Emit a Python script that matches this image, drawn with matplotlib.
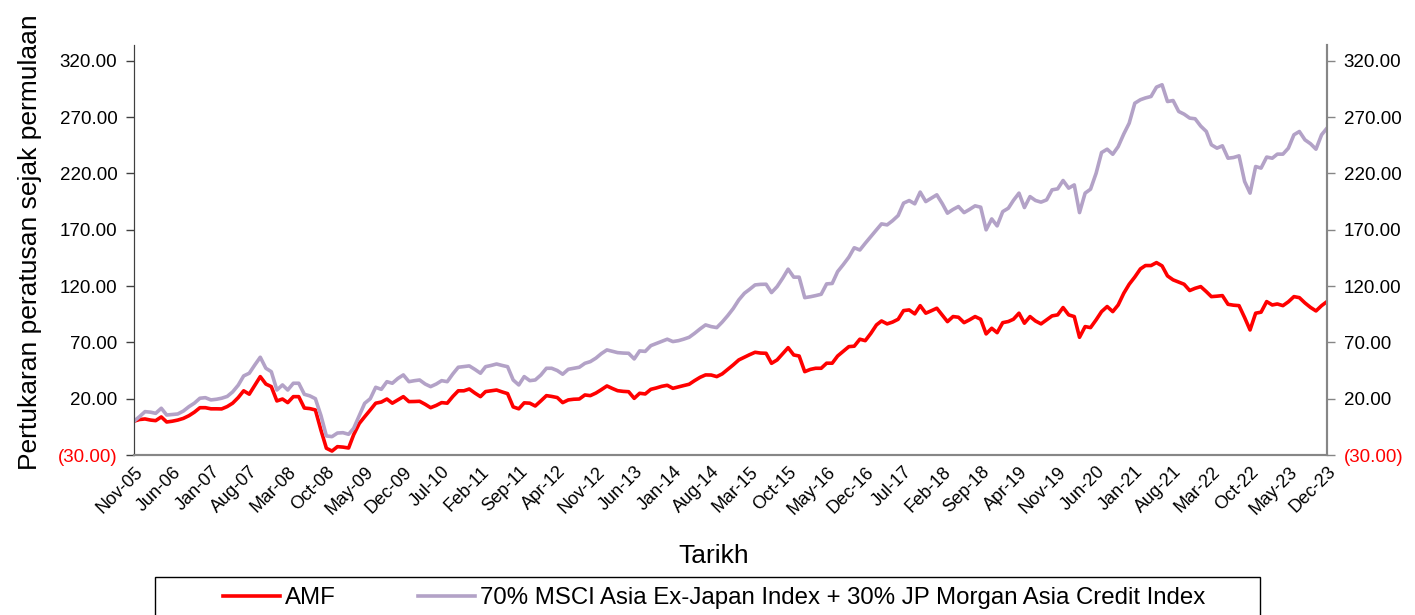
import matplotlib
matplotlib.use("Agg")
import matplotlib.pyplot as plt
import matplotlib.patches as mpatches
import pandas as pd

plt.rcParams['font.family'] = ['Liberation Sans', 'DejaVu Sans']

# monthly values, Nov-05 .. Dec-23 (rows of 12 months starting each November)
amf = [
    0, 1.5, 2, 1, 0.5, 3.8, -0.7, 0, 1, 2.5, 4.9, 8,
    12, 12, 11, 11, 10.9, 13, 16, 21, 27, 24, 32, 39.6,
    33, 30.7, 18, 19.7, 16.5, 21.8, 21.8, 11.7, 11.2, 10, -8, -24,
    -26.5, -22.6, -23, -23.8, -12, -2, 4, 10, 16, 17, 19.7, 16,
    19, 21.8, 17.4, 17.5, 17.7, 15, 12, 14, 16.5, 16, 22, 27,
    27, 28.6, 25, 21.8, 26.3, 27, 27.7, 26, 24.5, 12.7, 11, 16.3,
    16, 13.5, 18, 22.7, 22, 21, 16.5, 18.9, 19.5, 19.7, 23.3, 22.7,
    25, 28, 31.3, 29, 27.1, 26.5, 26.2, 20.3, 24.8, 24.2, 28.3, 29.5,
    31, 31.9, 29.2, 30.5, 31.6, 32.8, 36, 39, 41.1, 41, 39.6, 42,
    46.1, 50, 54.4, 56.8, 59, 61.2, 60.5, 60.3, 51.4, 54.4, 60, 65.3,
    58.8, 57.9, 44, 46, 47, 47, 51.5, 51.5, 57.9, 62, 66.2, 66.6,
    72.8, 71.5, 78, 85.5, 89, 86.4, 88, 90.5, 98.2, 98.8, 95.3, 102.6,
    95.9, 98, 100.3, 94, 88.4, 92.9, 92.3, 87.5, 90, 92.9, 90.5, 77.5,
    82.5, 78.6, 87.5, 88.5, 90.5, 95.9, 87, 92.9, 89, 86.4, 90, 93.5,
    94.4, 100.9, 94.4, 92.9, 74.5, 84, 83.1, 90, 97.3, 101.8, 97.3, 103.2,
    113.6, 121.6, 128, 135.2, 138.2, 138.2, 140.8, 137.9, 129, 125.5, 123.5, 121.6,
    116, 118, 119.5, 115, 110.6, 111, 111.5, 103.8, 103, 102.6, 92, 81,
    95.9, 96.8, 106.2, 103.2, 104.1, 102.6, 106, 110.6, 109.7, 105, 101, 97.9,
    102.6, 106.2,
]

benchmark = [
    0, 4, 8.5, 8, 7, 11.5, 5.5, 6, 6.4, 9, 12.9, 16,
    20.4, 20.9, 18.9, 19.5, 20.4, 22, 26, 32, 40.2, 42.6, 50, 56.8,
    47, 44, 27.7, 32.2, 27.7, 33.7, 33.7, 23.9, 22.5, 20, 5, -13.1,
    -13.7, -10.5, -10.2, -11.6, -6.3, 5, 15.9, 20, 30.1, 28.3, 35.1, 33.7,
    38, 41.1, 35.1, 36, 36.6, 33, 30.7, 33, 36, 35.1, 42, 47.9,
    48.5, 49.1, 46, 42.6, 48.4, 49.5, 50.8, 49.5, 48.4, 36.6, 32.2, 39.6,
    36, 36.6, 41, 47, 47, 45, 41.7, 46.1, 47, 47.9, 51.4, 52.9,
    56, 60, 63.3, 62, 60.9, 60.5, 60.3, 55.3, 62.4, 62, 67.1, 69,
    71, 72.8, 70.7, 71.5, 72.8, 74.5, 78, 82, 85.5, 84, 83.1, 88,
    93.8, 100, 107.7, 113.6, 117, 121, 121.5, 121.6, 114.2, 119.5, 127, 135,
    127.9, 127.9, 109.7, 110.5, 111.5, 112.7, 121.9, 122.3, 132.8, 139, 145.6, 154,
    152, 158, 164, 169.9, 175.2, 174.3, 178, 182.6, 193.6, 195.9, 193, 203.4,
    195, 198, 201, 193, 184.7, 188, 190.6, 185.2, 188, 191.2, 190, 169.9,
    179.6, 173.4, 186.1, 189.1, 196, 202.5, 189.7, 199.4, 196, 194.5, 196.5, 205.4,
    206.3, 213.7, 206.9, 209.8, 185.2, 202.5, 206, 220.2, 238.5, 241.5, 237, 243.8,
    255, 264.6, 282.3, 285.4, 287, 288.3, 296.6, 298.7, 283.8, 284.7, 275, 272.6,
    269.1, 268.5, 262, 257.2, 245.4, 242.4, 244.5, 233.5, 234.1, 235.6, 212.8, 202.5,
    226.1, 224.7, 234.5, 233.5, 237.1, 237.1, 242.4, 254.3, 257.2, 249.8, 246.3, 241.5,
    254.3, 260.2,
]

assert len(amf) == 218 and len(benchmark) == 218

dates = pd.date_range("2005-11-01", periods=len(amf), freq="MS")
y_ticks = [-30, 20, 70, 120, 170, 220, 270, 320]


def fmt(v):
    return "({:.2f})".format(abs(v)) if v < 0 else "{:.2f}".format(v)


fig = plt.figure(figsize=(14.15, 6.15), dpi=100)
ax = fig.add_axes([134 / 1415, 1 - 455 / 615, (1327 - 134) / 1415, (455 - 45) / 615])

ax.plot(dates, amf, color="#FF0000", lw=2.6, label="AMF", solid_joinstyle="round")
ax.plot(dates, benchmark, color="#B3A2C7", lw=2.6,
        label="70% MSCI Asia Ex-Japan Index + 30% JP Morgan Asia Credit Index",
        solid_joinstyle="round")

ax.set_xlim(dates[0], dates[-1])
ax.set_ylim(-30, 334)

ax.set_xticks(dates[::7])
ax.set_xticklabels([d.strftime("%b-%y") for d in dates[::7]], rotation=45,
                   ha="right", rotation_mode="anchor", fontsize=13)
ax.tick_params(axis="x", length=0, pad=6)

ax.set_yticks(y_ticks)
ax.set_yticklabels([fmt(v) for v in y_ticks], fontsize=13.5)
ax.tick_params(axis="y", length=6, width=1, color="#404040", pad=6)
for lab, v in zip(ax.get_yticklabels(), y_ticks):
    lab.set_color("#FF0000" if v < 0 else "black")

ax2 = ax.twinx()
ax2.set_ylim(-30, 334)
ax2.set_yticks(y_ticks)
ax2.set_yticklabels([fmt(v) for v in y_ticks], fontsize=13.5)
ax2.tick_params(axis="y", length=6, width=1, color="#868686", pad=6)
for lab, v in zip(ax2.get_yticklabels(), y_ticks):
    lab.set_color("#FF0000" if v < 0 else "black")

for a in (ax, ax2):
    a.spines["top"].set_visible(False)
    a.spines["bottom"].set_color("#868686")
    a.spines["right"].set_color("#868686")
    a.spines["left"].set_color("#404040")
    a.spines["bottom"].set_linewidth(1.5)
    a.spines["right"].set_linewidth(1.5)

fig.text(30 / 1415, 1 - 242 / 615, "Pertukaran peratusan sejak permulaan",
         rotation=90, ha="center", va="center", fontsize=19)
fig.text(714 / 1415, 1 - 556 / 615, "Tarikh", ha="center", va="center", fontsize=19)

fig.patches.append(mpatches.Rectangle((155 / 1415, -0.05), 1105 / 1415, 0.05 + 38 / 615,
                                      transform=fig.transFigure, fill=False,
                                      edgecolor="black", lw=1))
handles, labels = ax.get_legend_handles_labels()
fig.legend(handles, labels, loc="center", bbox_to_anchor=(714 / 1415, 1 - 598 / 615),
           ncol=2, frameon=False, fontsize=17.3, handlelength=2.4,
           columnspacing=3.4, handletextpad=0.2)

fig.savefig("out.png", dpi=100)
